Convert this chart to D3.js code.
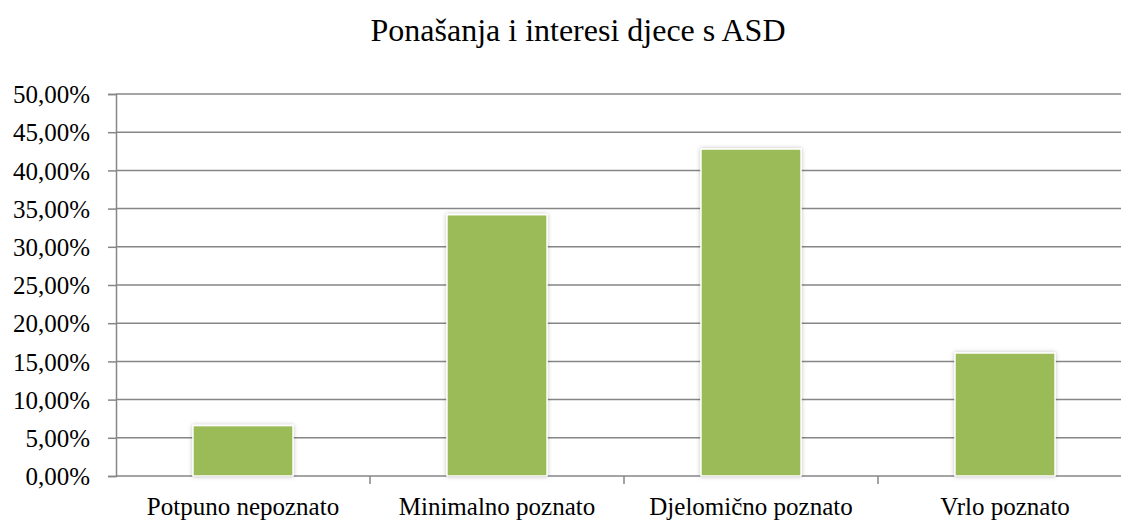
<!DOCTYPE html>
<html>
<head>
<meta charset="utf-8">
<script src="https://cdn.jsdelivr.net/npm/d3@7"></script>
<style>
  body { margin: 0; background: #fff; }
  svg text { font-family: "Liberation Serif", "Times New Roman", serif; fill: #000; }
</style>
</head>
<body>
<div id="chart"></div>
<script>
// chart values
var categories = ["Potpuno nepoznato", "Minimalno poznato", "Djelomično poznato", "Vrlo poznato"];
var values = [0.066, 0.342, 0.428, 0.161];
var yTicks = [0, 0.05, 0.10, 0.15, 0.20, 0.25, 0.30, 0.35, 0.40, 0.45, 0.50];
var title = "Ponašanja i interesi djece s ASD";

var width = 1121, height = 520;
var margin = { top: 94, right: -11, bottom: 44, left: 116 };
var serif = "'Liberation Serif', 'Times New Roman', serif";

var svg = d3.select("#chart").append("svg")
    .attr("width", width)
    .attr("height", height);

var defs = svg.append("defs");
var shadow = defs.append("filter").attr("id", "shadow")
    .attr("x", "-10%").attr("y", "-10%").attr("width", "120%").attr("height", "120%");
shadow.append("feDropShadow")
    .attr("dx", 0).attr("dy", 0).attr("stdDeviation", 2)
    .attr("flood-color", "#000").attr("flood-opacity", 0.25);

var x = d3.scaleBand()
    .domain(categories)
    .range([margin.left, width - margin.right])
    .paddingInner(0.606)
    .paddingOuter(0.303);

var y = d3.scaleLinear()
    .domain([0, 0.5])
    .range([height - margin.bottom, margin.top]);

var fmt = function (v) { return (v * 100).toFixed(2).replace(".", ",") + "%"; };

// title
svg.append("text")
    .attr("x", 578)
    .attr("y", 41)
    .attr("text-anchor", "middle")
    .attr("font-family", serif)
    .style("font-size", "32px")
    .text(title);

// gridlines
svg.append("g")
    .selectAll("line")
    .data(yTicks.slice(1))
    .enter().append("line")
    .attr("x1", margin.left)
    .attr("x2", width)
    .attr("y1", function (d) { return y(d); })
    .attr("y2", function (d) { return y(d); })
    .attr("stroke", "#868686")
    .attr("stroke-width", 1.5);

// y axis
var yAxis = svg.append("g")
    .attr("transform", "translate(" + margin.left + ",0)")
    .call(d3.axisLeft(y).tickValues(yTicks).tickFormat(fmt).tickSize(8).tickPadding(18))
    .attr("font-family", serif)
    .attr("font-size", 25);
yAxis.selectAll("line, path").attr("stroke", "#868686").attr("stroke-width", 1.5);
yAxis.selectAll("text")
    .attr("fill", "#000")
    .attr("dy", "0.35em");

// x axis
var xAxis = svg.append("g")
    .attr("transform", "translate(0," + y(0) + ")")
    .call(d3.axisBottom(x).tickSize(0).tickPadding(0))
    .attr("font-family", serif)
    .attr("font-size", 25);
xAxis.select(".domain").remove();
xAxis.append("line")
    .attr("x1", margin.left).attr("x2", width)
    .attr("stroke", "#868686").attr("stroke-width", 1.5);
xAxis.selectAll(".tick text")
    .attr("fill", "#000")
    .attr("dy", null)
    .attr("y", 39);
// category separators
var step = x.step();
xAxis.selectAll(".sep")
    .data(categories.slice(1))
    .enter().append("line")
    .attr("class", "sep")
    .attr("x1", function (d) { return x(d) - x.paddingInner() * step / 2; })
    .attr("x2", function (d) { return x(d) - x.paddingInner() * step / 2; })
    .attr("y1", 0).attr("y2", 8)
    .attr("stroke", "#868686").attr("stroke-width", 1.5);

// bars
svg.append("g")
    .selectAll("rect")
    .data(values)
    .enter().append("rect")
    .attr("x", function (d, i) { return x(categories[i]); })
    .attr("y", function (d) { return y(d); })
    .attr("width", x.bandwidth())
    .attr("height", function (d) { return y(0) - y(d); })
    .attr("fill", "#9BBB59")
    .attr("stroke", "#fff")
    .attr("stroke-width", 1.5)
    .attr("filter", "url(#shadow)");
</script>
</body>
</html>
